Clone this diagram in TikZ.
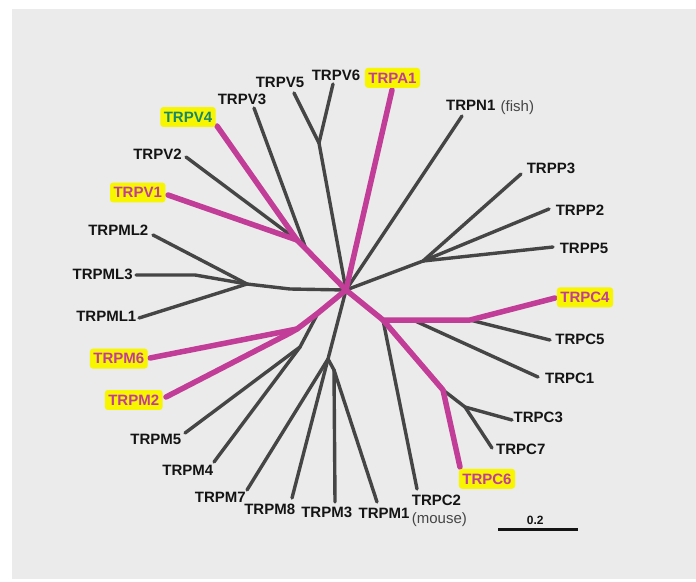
\documentclass[tikz,border=0pt]{standalone}
\usepackage{fontspec}
\setmainfont{Liberation Sans}
\definecolor{bggray}{HTML}{EBEBEB}
\definecolor{branch}{HTML}{454545}
\definecolor{hot}{HTML}{C13D98}
\definecolor{hl}{HTML}{F7F500}
\definecolor{tealc}{HTML}{17876A}
\definecolor{ink}{HTML}{141414}
\tikzset{
  lbl/.style={font=\fontsize{15}{15}\selectfont\bfseries, text=ink, inner sep=0pt, text height=10.7pt, text depth=0pt},
  hlbl/.style={lbl, fill=hl, rounded corners=3pt, inner xsep=3.5pt, inner ysep=4.6pt, text=hot},
  sub/.style={font=\fontsize{15}{15}\selectfont, text=branch, inner sep=0pt},
  gbr/.style={draw=branch, line width=3.4pt, line cap=round, line join=round},
  pbr/.style={draw=hot, line width=5.5pt, line cap=round, line join=round},
  scalebar/.style={draw=ink, line width=2.5pt},
}
\begin{document}
\begin{tikzpicture}[x=1pt,y=-1pt]
\useasboundingbox (0,0) rectangle (696,581);
\fill[white] (0,0) rectangle (696,581);
\fill[bggray] (12,9) rectangle (696,579);

% ---- internal nodes and leaf tips ----
\coordinate (H) at (346,290);
% V clade
\coordinate (V56) at (319,143);
\coordinate (tV6) at (333,84);
\coordinate (tV5) at (294,93);
\coordinate (J1) at (297,240);
\coordinate (J2) at (306,249);
\coordinate (tV4) at (217,126);
\coordinate (tV1) at (168,195);
\coordinate (tV2) at (186,157);
\coordinate (tV3) at (254,108);
% A, N
\coordinate (tA1) at (392,90);
\coordinate (tN1) at (462,116);
% P clade
\coordinate (Pj) at (423,261);
\coordinate (tP3) at (521,174);
\coordinate (tP2) at (549,209);
\coordinate (tP5) at (553,247);
% C clade
\coordinate (Cj) at (383,320);
\coordinate (C1k) at (413,320);
\coordinate (C4k) at (470,320);
\coordinate (tC4) at (555,298);
\coordinate (tC5) at (550,340);
\coordinate (tC1) at (538,377);
\coordinate (tC2) at (417,489);
\coordinate (C6j) at (443,390);
\coordinate (tC6) at (460,467);
\coordinate (C37) at (465,407);
\coordinate (tC3) at (512,420);
\coordinate (tC7) at (492,448);
% ML clade
\coordinate (MLb) at (290,289);
\coordinate (MLj) at (247,284);
\coordinate (tML2) at (153,235);
\coordinate (ML3b) at (195,275);
\coordinate (tML3) at (136,275);
\coordinate (tML1) at (139,318);
% M clade
\coordinate (X) at (318,313);
\coordinate (Mj) at (297,329);
\coordinate (M2k) at (290,333);
\coordinate (tM6) at (150,358);
\coordinate (tM2) at (166,397);
\coordinate (M45) at (300,347);
\coordinate (tM5) at (185,433);
\coordinate (tM4) at (214,462);
\coordinate (M78) at (328,359);
\coordinate (tM7) at (247,490);
\coordinate (tM8) at (292,498);
\coordinate (M31) at (334,370);
\coordinate (tM3) at (335,502);
\coordinate (tM1) at (377,502);
% scale bar
\coordinate (sb1) at (498,529.5);
\coordinate (sb2) at (578,529.5);

% ---- grey branches ----
\path[gbr] (tV6) -- (V56) -- (H);
\path[gbr] (tV5) -- (V56);
\path[gbr] (tV2) -- (J1);
\path[gbr] (tV3) -- (J2);
\path[gbr] (tN1) -- (H);
\path[gbr] (H) -- (Pj) -- (tP3);
\path[gbr] (Pj) -- (tP2);
\path[gbr] (Pj) -- (tP5);
\path[gbr] (C4k) -- (tC5);
\path[gbr] (C1k) -- (tC1);
\path[gbr] (Cj) -- (tC2);
\path[gbr] (C6j) -- (C37) -- (tC3);
\path[gbr] (C37) -- (tC7);
\path[gbr] (H) -- (MLb) -- (MLj) -- (tML2);
\path[gbr] (MLj) -- (ML3b) -- (tML3);
\path[gbr] (MLj) -- (tML1);
\path[gbr] (X) -- (M45) -- (tM5);
\path[gbr] (M45) -- (tM4);
\path[gbr] (H) -- (M78) -- (tM7);
\path[gbr] (M78) -- (tM8);
\path[gbr] (M78) -- (M31) -- (tM3);
\path[gbr] (M31) -- (tM1);

% ---- highlighted branches ----
\path[pbr] (tV4) -- (J1) -- (J2) -- (H);
\path[pbr] (tV1) -- (J1);
\path[pbr] (tA1) -- (H);
\path[pbr] (H) -- (Cj) -- (C1k) -- (C4k) -- (tC4);
\path[pbr] (Cj) -- (C6j) -- (tC6);
\path[pbr] (H) -- (X) -- (Mj) -- (tM6);
\path[pbr] (Mj) -- (M2k) -- (tM2);

\path[scalebar] (sb1) -- (sb2);

% ---- labels ----
\node[lbl] (lV6) at (336,75.5) {TRPV6};
\node[lbl] (lV5) at (280,81.7) {TRPV5};
\node[lbl] (lV3) at (242,99) {TRPV3};
\node[hlbl, text=tealc] (lV4) at (188,117) {TRPV4};
\node[lbl] (lV2) at (157.5,154) {TRPV2};
\node[hlbl] (lV1) at (137.7,192.5) {TRPV1};
\node[lbl] (lML2) at (118.3,229.7) {TRPML2};
\node[lbl] (lML3) at (102.7,274) {TRPML3};
\node[lbl] (lML1) at (106.3,316.3) {TRPML1};
\node[hlbl] (lM6) at (118.8,358.6) {TRPM6};
\node[hlbl] (lM2) at (133.7,400) {TRPM2};
\node[lbl] (lM5) at (155.8,439.3) {TRPM5};
\node[lbl] (lM4) at (187.8,470) {TRPM4};
\node[lbl] (lM7) at (220.3,496.7) {TRPM7};
\node[lbl] (lM8) at (269.7,509.3) {TRPM8};
\node[lbl] (lM3) at (326.7,511.7) {TRPM3};
\node[lbl] (lM1) at (384,512.7) {TRPM1};
\node[lbl, anchor=west] (lC2) at (411.7,499.7) {TRPC2};
\node[sub, anchor=base west] (lC2m) at (411.7,523) {(mouse)};
\node[hlbl] (lC6) at (487,478.8) {TRPC6};
\node[lbl] (lC7) at (520.8,449.3) {TRPC7};
\node[lbl] (lC3) at (538.3,416.7) {TRPC3};
\node[lbl] (lC1) at (569.7,378.3) {TRPC1};
\node[lbl] (lC5) at (580,339.3) {TRPC5};
\node[hlbl] (lC4) at (585,297.3) {TRPC4};
\node[lbl] (lP5) at (584,248.3) {TRPP5};
\node[lbl] (lP2) at (580,210) {TRPP2};
\node[lbl] (lP3) at (551,168.3) {TRPP3};
\node[lbl, anchor=west] (lN1) at (446,105) {TRPN1};
\node[sub, anchor=base west] (lN1f) at (500.5,111.7) {(fish)};
\node[hlbl] (lA1) at (392.5,77.8) {TRPA1};
\node[lbl, font=\fontsize{12}{12}\selectfont\bfseries, text height=8.6pt] (lsb) at (535.3,520) {0.2};
\end{tikzpicture}
\end{document}
